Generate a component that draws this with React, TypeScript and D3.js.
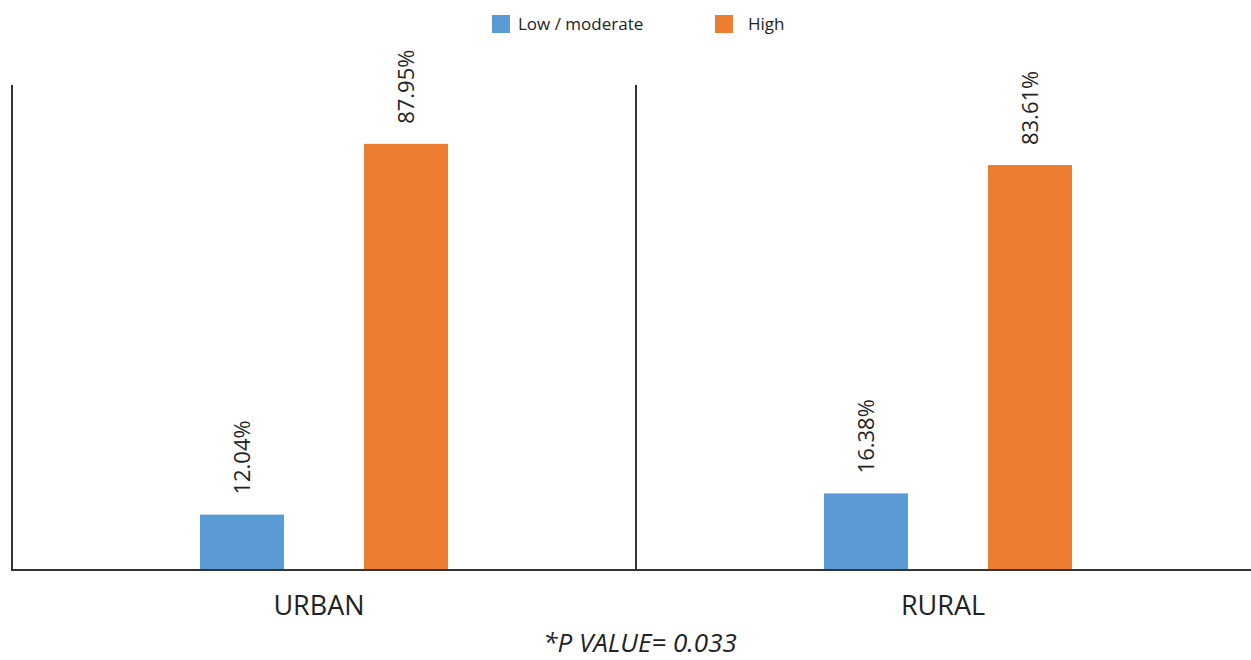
import React from "react";
import * as d3 from "d3";

const categories = ["URBAN", "RURAL"];
const seriesNames = ["Low / moderate", "High"];
const lowModerate = [12.04, 16.38];
const high = [87.95, 83.61];
const colors = ["#5B9BD5", "#ED7D31"];
const footnote = "*P VALUE= 0.033";

export default function App() {
  const W = 1251, H = 660;
  const x0 = d3.scaleBand<string>().domain(categories).range([12, 1260]).paddingInner(0).paddingOuter(0);
  const x1 = d3.scaleBand<string>().domain(seriesNames).range([0, x0.bandwidth()]).paddingInner(0.488).paddingOuter(1.146);
  const y = d3.scaleLinear().domain([0.7, 100]).range([570, 85]);
  const series = [lowModerate, high];
  const font = "'Open Sans', sans-serif";
  return (
    <svg width={W} height={H} style={{ position: "absolute", left: 0, top: 0, background: "#fff" }} fontFamily={font}>
      {/* legend */}
      <rect x={492} y={15} width={18} height={18} fill={colors[0]} />
      <text x={518} y={30} fontSize={17} fill="#222">{seriesNames[0]}</text>
      <rect x={715} y={15} width={18} height={18} fill={colors[1]} />
      <text x={748} y={30} fontSize={17} fill="#222">{seriesNames[1]}</text>
      {/* bars */}
      {categories.map((c, ci) => (
        <g key={c}>
          {series.map((s, si) => {
            const bx = (x0(c) as number) + (x1(seriesNames[si]) as number);
            const bw = x1.bandwidth();
            const top = y(s[ci]);
            const cx = bx + bw / 2;
            const ly = top - 20;
            return (
              <g key={si}>
                <rect x={bx} y={top} width={bw} height={570 - top} fill={colors[si]} />
                <text transform={`translate(${cx + 8},${ly}) rotate(-90)`} fontSize={22} fill="#222" textAnchor="start">
                  {s[ci].toFixed(2) + "%"}
                </text>
              </g>
            );
          })}
          <text x={(x0(c) as number) + x0.bandwidth() / 2 - 5} y={615} fontSize={27} textAnchor="middle" fill="#222">{c}</text>
        </g>
      ))}
      {/* axes */}
      <line x1={12} x2={12} y1={85} y2={571} stroke="#333" strokeWidth={2} />
      <line x1={636} x2={636} y1={85} y2={571} stroke="#333" strokeWidth={2} />
      <line x1={11} x2={W} y1={570} y2={570} stroke="#333" strokeWidth={2} />
      <text x={640} y={652} fontSize={26} fontStyle="italic" textAnchor="middle" fill="#222">{footnote}</text>
    </svg>
  );
}
